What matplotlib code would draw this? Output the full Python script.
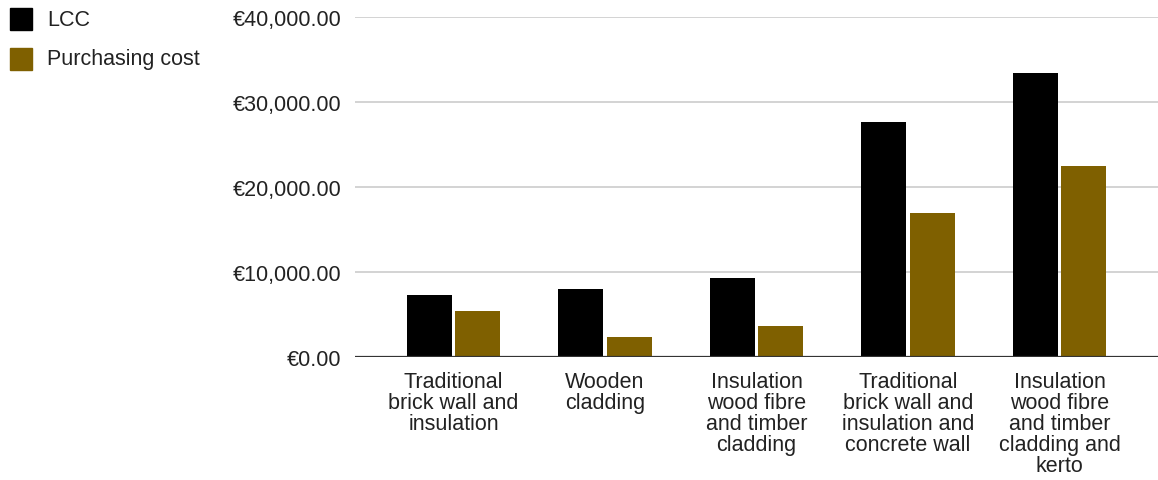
import matplotlib
matplotlib.use("Agg")
import matplotlib.pyplot as plt
import numpy as np
from matplotlib.patches import Rectangle

plt.rcParams['font.family'] = ['Liberation Sans', 'DejaVu Sans']

categories = [
    "Traditional\nbrick wall and\ninsulation",
    "Wooden\ncladding",
    "Insulation\nwood fibre\nand timber\ncladding",
    "Traditional\nbrick wall and\ninsulation and\nconcrete wall",
    "Insulation\nwood fibre\nand timber\ncladding and\nkerto",
]
lcc = [7350, 8000, 9300, 27700, 33450]
purchasing = [5400, 2420, 3720, 16980, 22540]
series_names = ["LCC", "Purchasing cost"]
series_colors = ["#000000", "#7f6000"]
y_ticks = [0, 10000, 20000, 30000, 40000]

W, H = 1158, 481
fig = plt.figure(figsize=(W / 100, H / 100), dpi=100)
# axes box in pixels: x 355..1158, y 18..358
ax = fig.add_axes([355 / W, (H - 358.3) / H, (W - 355) / W, 340 / H])

x = np.arange(len(categories))
bw = 0.297
off = 0.1615
ax.bar(x - off, lcc, bw, color=series_colors[0], zorder=3)
ax.bar(x + off, purchasing, bw, color=series_colors[1], zorder=3)

ax.set_xlim(-0.65, 4.65)
ax.set_ylim(0, 40000)
ax.set_yticks(y_ticks)
ax.set_yticklabels([f"€{v:,.2f}" for v in y_ticks])
ax.set_xticks(x)
ax.set_xticklabels(categories, linespacing=1.0)

for v in y_ticks[1:]:
    ax.axhline(v, color="#cccccc", lw=1.2, zorder=1)
ax.axhline(0, color="#333333", lw=1.6, zorder=4)

for s in ax.spines.values():
    s.set_visible(False)
ax.tick_params(axis="both", length=0, labelsize=15.5, labelcolor="#222222")
ax.tick_params(axis="y", pad=10)
ax.tick_params(axis="x", pad=10)

# legend in the top-left corner
for i, (name, col) in enumerate(zip(series_names, series_colors)):
    yc = 20 + 40 * i
    fig.add_artist(Rectangle((10 / W, (H - yc - 11) / H), 22 / W, 22 / H,
                             transform=fig.transFigure, color=col))
    fig.text(47 / W, (H - yc) / H, name, fontsize=15.5, color="#222222",
             va="center", ha="left")

fig.savefig("out.png", dpi=100)
